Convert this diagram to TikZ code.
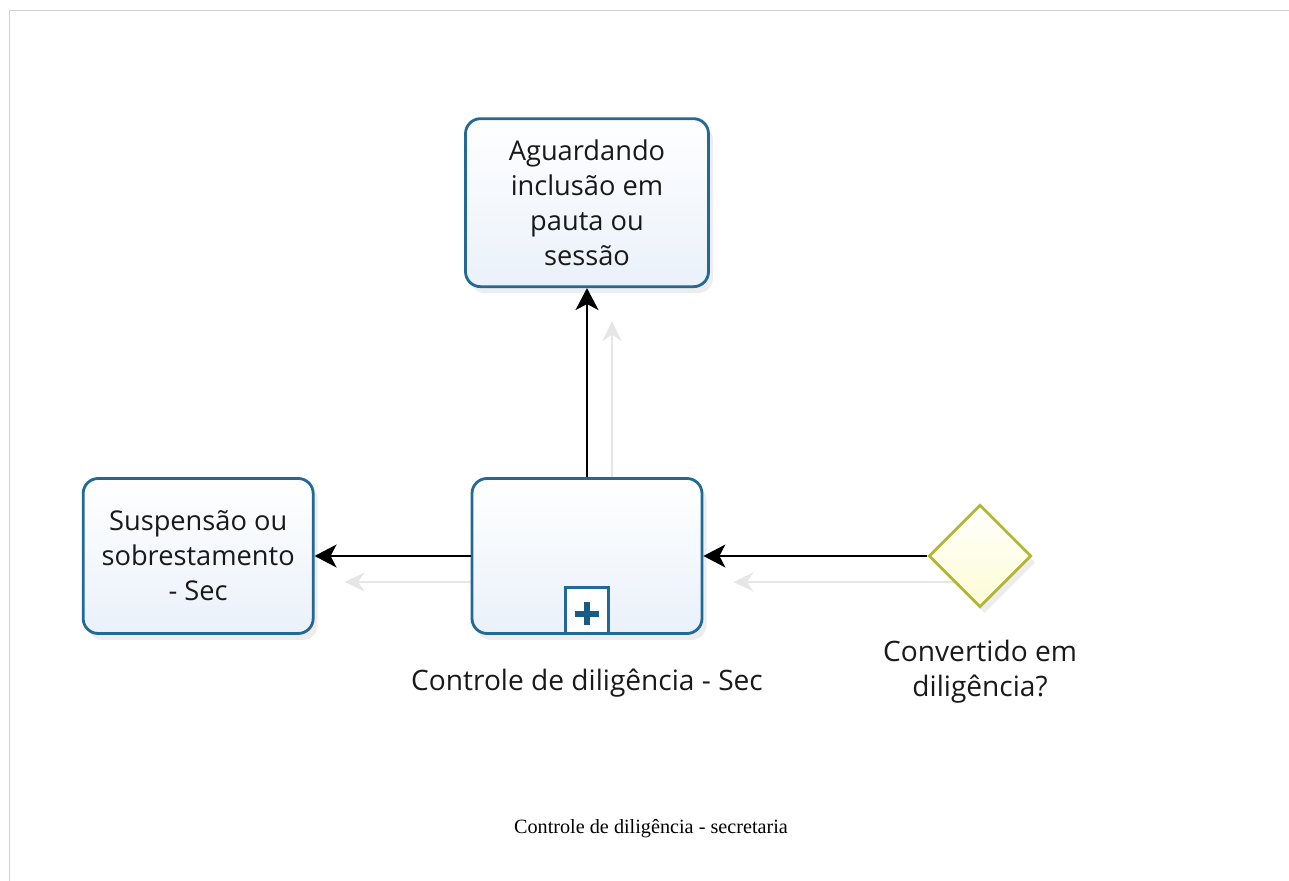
\documentclass[tikz,border=0pt]{standalone}
\usepackage{fontspec}
\setmainfont{Open Sans}
\newfontfamily\captionfont{Liberation Serif}
\usetikzlibrary{shapes.geometric, arrows.meta, calc, positioning, shadows, backgrounds}
\definecolor{taskblue}{RGB}{35,105,150}
\definecolor{taskfill}{RGB}{234,241,250}
\definecolor{plusblue}{RGB}{25,90,135}
\definecolor{gateolive}{RGB}{178,182,52}
\definecolor{gatefill}{RGB}{252,252,212}
\definecolor{ghostgray}{RGB}{230,230,230}
\definecolor{framegray}{RGB}{208,208,208}
\tikzstyle{task} = [rectangle, rounded corners=0.3cm, line width=1.6pt, draw=taskblue, top color=white, bottom color=taskfill, minimum width=4.6cm, minimum height=3.1cm, align=center, text=black!90, font=\fontsize{15.5}{20}\selectfont, drop shadow={shadow xshift=0.9mm, shadow yshift=-1.3mm, opacity=0.14}]
\tikzstyle{gateway} = [diamond, aspect=1, inner sep=0pt, line width=1.6pt, draw=gateolive, top color=white, bottom color=gatefill, minimum width=2.05cm, minimum height=2.05cm, drop shadow={shadow xshift=0.9mm, shadow yshift=-1.3mm, opacity=0.14}]
\tikzstyle{subprocess} = [rectangle, line width=1.4pt, draw=taskblue, fill=white, minimum width=0.86cm, minimum height=0.92cm, inner sep=0pt]
\tikzstyle{caption} = [align=center, text=black!90, font=\fontsize{16}{20}\selectfont]
\tikzstyle{arrow} = [line width=1.1pt, ->, >={Stealth[length=4.4mm, width=4.6mm, inset=1.2mm]}]
\tikzstyle{ghost} = [line width=1.1pt, draw=ghostgray, ->, >={Stealth[length=4mm, width=3.8mm]}]

\begin{document}
\begin{tikzpicture}[node distance = 10mm, auto]
	\useasboundingbox (-11.74,-6.5) rectangle (14.04,11.12);
	\draw [framegray, line width=0.8pt] (-11.55,-6.5) |- (14.04,10.91);
	\node (Control) [task] {};
	\node (Marker) [subprocess, above = 0pt of Control.south] {};
	\draw [plusblue, line width=3.4pt] ([yshift=-0.06cm]Marker.center) ++(-0.24,0) -- ++(0.48,0);
	\draw [plusblue, line width=3.4pt] ([yshift=-0.06cm]Marker.center) ++(0,-0.23) -- ++(0,0.46);
	\node (ControlLabel) [caption, below = 5.5mm of Control] {Controle de diligência - Sec};
	\node (Waiting) [task, minimum width=4.86cm, minimum height=3.36cm, above = 3.78cm of Control] {Aguardando\\inclusão em\\pauta ou\\sessão};
	\node (Suspension) [task, left = 3.12cm of Control] {Suspensão ou\\sobrestamento\\- Sec};
	\node (Gateway) [gateway, right = 4.48cm of Control] {};
	\node (GatewayLabel) [caption, below = 5mm of Gateway] {Convertido em\\diligência?};
	\node (Title) at (1.28,-5.46) {\captionfont\fontsize{11.5}{14}\selectfont Controle de diligência - secretaria};
	% shadows of the flows
	\begin{scope}[on background layer]
		\draw [ghost] ([xshift=0.5cm]Control.north) -- ([shift={(0.5cm,-0.66cm)}]Waiting.south);
		\draw [ghost] ([yshift=-0.52cm]Control.west) -- ([shift={(0.6cm,-0.52cm)}]Suspension.east);
		\draw [ghost] ([shift={(0.6cm,-0.52cm)}]Gateway.west) -- ([shift={(0.6cm,-0.52cm)}]Control.east);
	\end{scope}
	\draw [arrow] (Control) -- (Waiting);
	\draw [arrow] (Control) -- (Suspension);
	\draw [arrow] (Gateway) -- (Control);
\end{tikzpicture}
\end{document}
